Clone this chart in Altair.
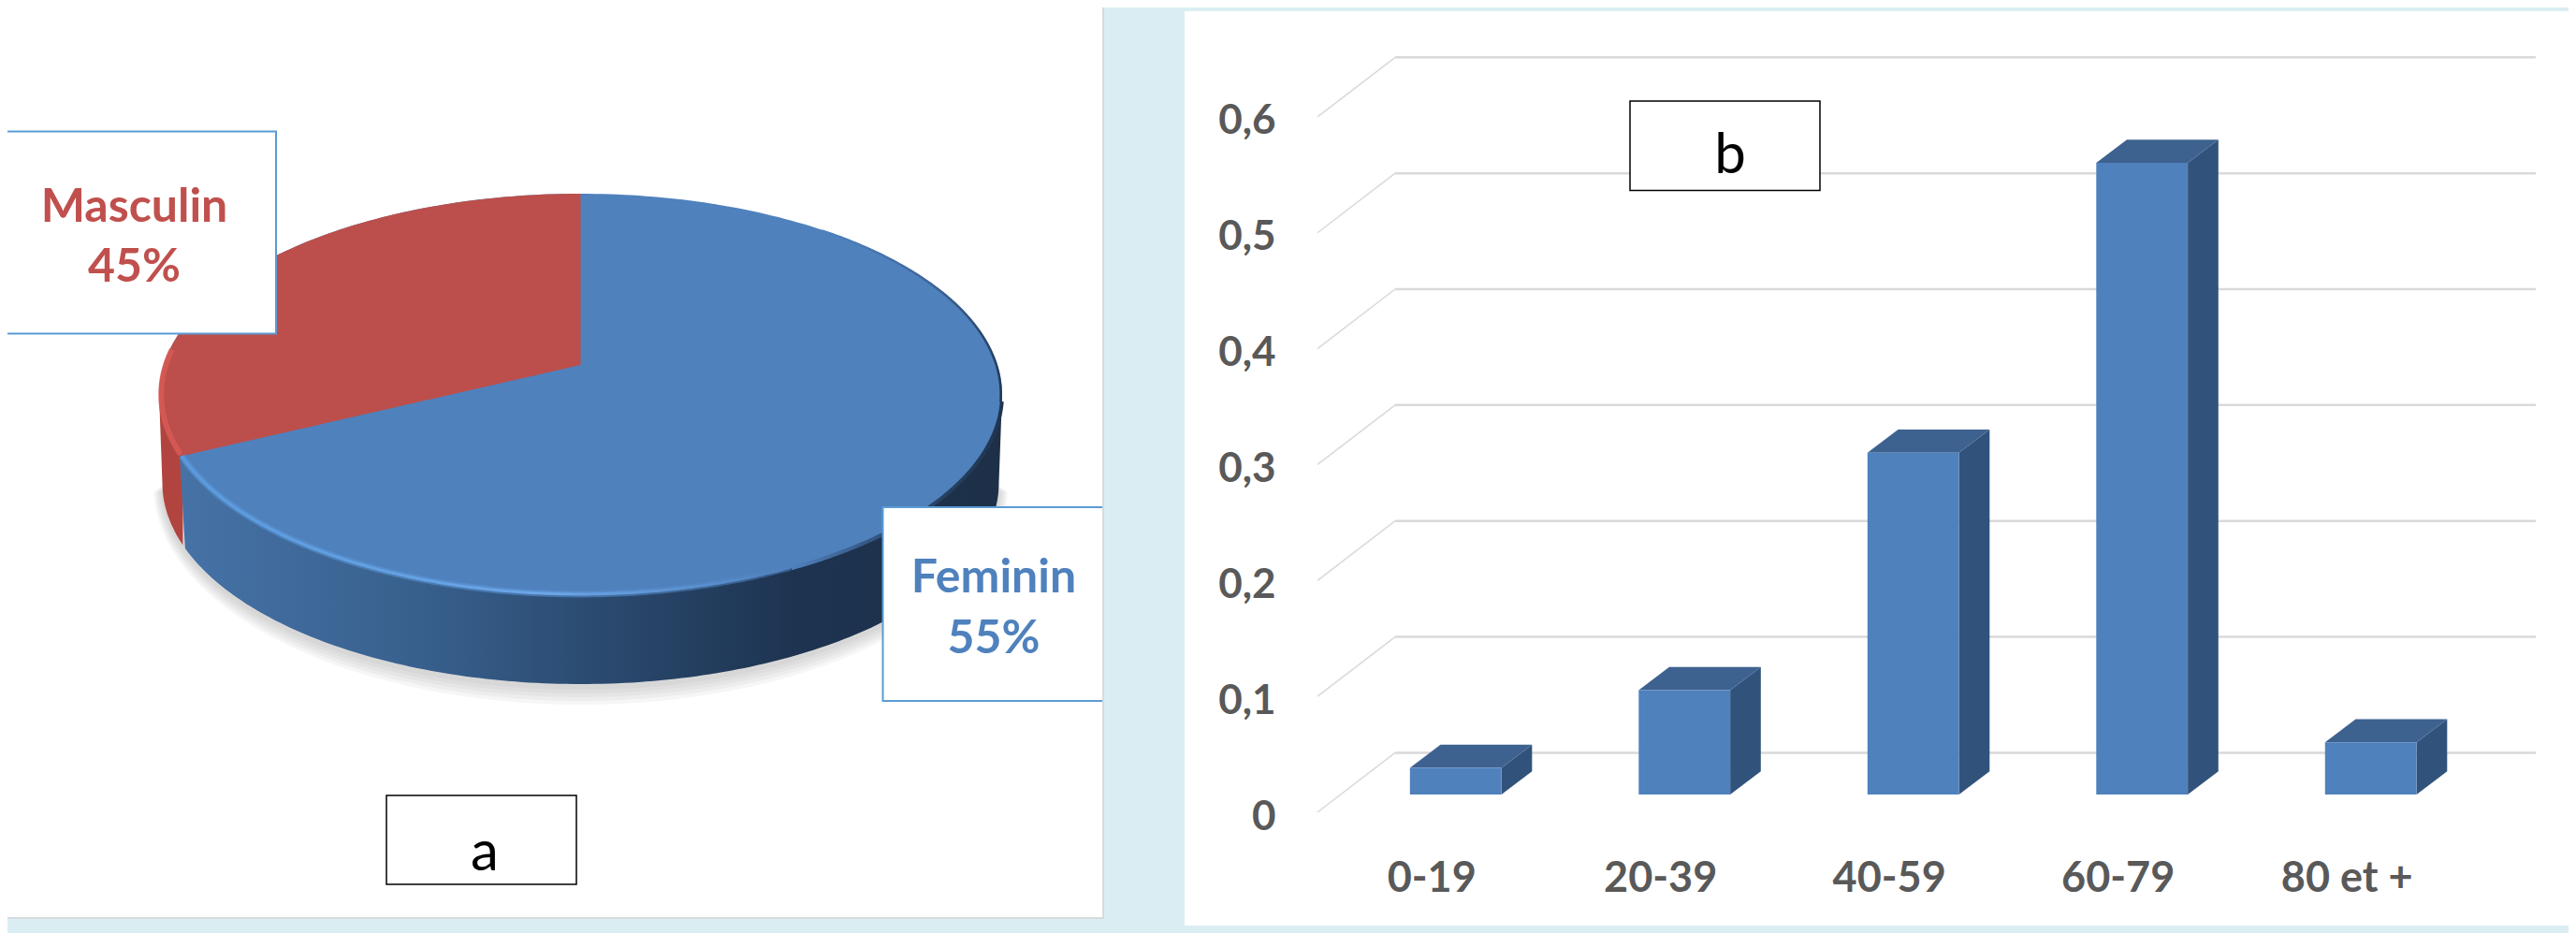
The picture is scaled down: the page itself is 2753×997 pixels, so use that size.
import numpy as np
import pandas as pd
import altair as alt

# ---- data ----
sexes = ["Masculin", "Feminin"]
shares = ["45%", "55%"]
sex_colors = ["#C0504D", "#4F81BD"]
ages = ["0-19", "20-39", "40-59", "60-79", "80 et +"]
age_values = [0.023, 0.09, 0.295, 0.545, 0.045]
y_ticks = [0, 0.1, 0.2, 0.3, 0.4, 0.5, 0.6]

FONT = "Lato"
BG = "#DAEDF3"
EDGE = "#5B9BD5"
W1, H1 = 1172, 974
W2, H2 = 1479, 989

# ---- pie panel: unit-circle geometry seen through two linear scales ----
CX, CY, RX, RY = 620.5, 421.5, 450.5, 214.5
RED_EDGE = 252.0      # angle clockwise from 12 o'clock where the red sector ends
APEX = (CY - 390) / RY
DROP = (516 - CY) / RY   # thickness of the disc
RX_B, RY_B = 447 / RX, 215 / RY

px = alt.Scale(domain=[(8 - CX) / RX, (1180 - CX) / RX], nice=False, zero=False)
py = alt.Scale(domain=[(CY - 982) / RY, (CY - 8) / RY], nice=False, zero=False)


def pie_x(f="x"):
    return alt.X(f"{f}:Q", scale=px, axis=None)


def pie_y(f="y"):
    return alt.Y(f"{f}:Q", scale=py, axis=None)


def arc(t0, t1, n=120):
    t = np.radians(np.linspace(t0, t1, n))
    return pd.DataFrame({"x": np.sin(t), "y": np.cos(t)})


def area(df, **mark):
    return alt.Chart(df).mark_area(**mark).encode(x=pie_x(), y=pie_y("y1"), y2=alt.Y2("y2:Q"))


def line(df, **mark):
    return alt.Chart(df).mark_line(**mark).encode(x=pie_x(), y=pie_y(), order="o:Q")


def grad(stops, vertical=False):
    return alt.LinearGradient(
        gradient="linear", x1=0, x2=0 if vertical else 1, y1=0, y2=1 if vertical else 0,
        stops=[alt.GradientStop(color=c, offset=o) for o, c in stops],
    )


t = np.radians(np.linspace(-90, 90, 181))
ux = np.sin(t)
uy = np.cos(t)
face = pd.DataFrame({"x": ux, "y1": uy, "y2": -uy})

shadows = [
    area(pd.DataFrame({"x": ux * (RX_B + 0.5 * k / RX),
                       "y1": -0.5 + uy * 0.2,
                       "y2": DROP * -1 - uy * (RY_B + k / RY) - 3 / RY}),
         color="#8A8A8A", opacity=0.08, strokeOpacity=0)
    for k in (3, 7, 11, 15, 19)
]

# side wall of the disc
edge_x = np.sin(np.radians(RED_EDGE))
edge_y = np.cos(np.radians(RED_EDGE))
wall_y = lambda x: -DROP - RY_B * np.sqrt(np.clip(1 - (x / RX_B) ** 2, 0, 1))
red_wall = pd.DataFrame({"x": np.r_[-1.0, (ux * RX_B)[(ux * RX_B) < -0.94]]})
red_wall["y1"] = 0.0
red_wall["y2"] = [0.0 if i == 0 else wall_y(v) for i, v in enumerate(red_wall.x)]
bx = (ux * RX_B)[(ux * RX_B) > -0.94]
blue_wall = pd.DataFrame({"x": np.r_[edge_x, bx, 1.0]})
blue_wall["y1"] = 0.0
blue_wall["y2"] = np.r_[edge_y, wall_y(bx), 0.0]

wall_red = area(red_wall, color="#B2443F")
wall_blue = area(blue_wall, color=grad([(0, "#4672A6"), (0.29, "#38608D"), (0.49, "#2C4C72"),
                                        (0.75, "#1D3350"), (1, "#1D3048")]))

face_blue = area(face, color="#4F81BD")
rx_red = np.sin(np.radians(np.linspace(RED_EDGE, 360, 150)))
red_top = pd.DataFrame({"x": np.r_[-1.0, rx_red[np.argmin(rx_red):]]})
red_top = red_top.sort_values("x").drop_duplicates("x")
red_top["y1"] = np.sqrt(np.clip(1 - red_top.x ** 2, 0, 1))
red_top["y2"] = np.where(
    red_top.x < edge_x,
    -np.sqrt(np.clip(1 - red_top.x ** 2, 0, 1)),
    APEX + (edge_y - APEX) * (red_top.x / edge_x),
)
red_top = pd.concat([pd.DataFrame({"x": [edge_x], "y1": [-edge_y],
                                   "y2": [edge_y]}), red_top]).sort_values("x")
face_red = area(red_top, color="#BC4F4B")


# bevel highlights around the rim
def rim(t0, t1, inset):
    df = arc(t0, t1)
    df["x"] *= inset
    df["y"] *= inset
    df["o"] = range(len(df))
    return df


rims = [
    line(rim(RED_EDGE, 150, 0.995), strokeWidth=7, opacity=0.5,
         color=grad([(0, "#5B9BDD"), (0.65, "#5E97D8"), (1, "#4F81BD")])),
    line(rim(RED_EDGE, 150, 0.995), strokeWidth=3,
         color=grad([(0, "#5B9BDD"), (0.6, "#6BA6E8"), (1, "#4F81BD")])),
    line(rim(RED_EDGE + 0.5, 283, 0.995), strokeWidth=6, color="#D85A55", opacity=0.8),
    line(rim(150, 92, 1.0), strokeWidth=4,
         color=grad([(0, "#4F81BD"), (0.5, "#2C4A70"), (1, "#1F3550")])),
    line(rim(92, 35, 0.997), strokeWidth=2.5,
         color=grad([(0, "#4F81BD"), (0.6, "#2C4A70"), (1, "#1F3550")], vertical=True)),
]


def box(x0, x1, y0, y1, stroke, width):
    return alt.Chart(pd.DataFrame({"k": [0]})).mark_rect(
        fill="white", stroke=stroke, strokeWidth=width, clip=True
    ).encode(x=alt.value(x0), x2=alt.value(x1), y=alt.value(y0), y2=alt.value(y1))


def label(txt, x, y, size, color, weight="bold"):
    return alt.Chart(pd.DataFrame({"t": [txt]})).mark_text(
        font=FONT, fontSize=size, fontWeight=weight, color=color, align="center", baseline="middle"
    ).encode(text="t:N", x=alt.value(x), y=alt.value(y))


def border(x0, x1, y0, y1):
    return alt.Chart(pd.DataFrame({"k": [0]})).mark_rect(color="#D5DBDD").encode(
        x=alt.value(x0), x2=alt.value(x1), y=alt.value(y0), y2=alt.value(y1))


left = alt.layer(
    *shadows, wall_red, wall_blue, face_blue, face_red, *rims,
    box(-10, 287, 132.5, 348.5, EDGE, 2),
    label(sexes[0], 135.5, 214, 50, sex_colors[0]),
    label(shares[0], 135.5, 278, 50, sex_colors[0]),
    box(935.5, W1 + 10, 534, 741, EDGE, 2),
    label(sexes[1], 1054, 610, 50, sex_colors[1]),
    label(shares[1], 1054, 675, 50, sex_colors[1]),
    box(405, 608, 842, 937, "black", 1.5),
    label("a", 510, 904, 60, "black", "normal"),
    border(W1 - 2, W1, 0, H1),
    border(0, W1, H1 - 2, H1),
).properties(width=W1, height=H1, view=alt.ViewConfig(fill="white", stroke=None))

# ---- bar panel ----
X0, STEP = 1555.7, 244.5
Y0, UNIT = 868.0, 1238.5
bx_scale = alt.Scale(domain=[(1266 - X0) / STEP, (1266 + W2 - X0) / STEP], nice=False, zero=False)
by_scale = alt.Scale(domain=[(Y0 - 997) / UNIT, (Y0 - 8) / UNIT], nice=False, zero=False)
WALL_DX, WALL_DY = 83 / STEP, 63.6 / UNIT
BAR_DX, BAR_DY = 32.7 / STEP, 24.7 / UNIT
BASE = (Y0 - 849) / UNIT
HALF = 0.2

age_js = "[" + ",".join(f"'{a}'" for a in ages) + "]"
AXIS_X = alt.Axis(values=list(range(len(ages))), labelExpr=f"{age_js}[datum.value]",
                  orient="bottom", offset=-59, domain=False, ticks=False, grid=False,
                  labelPadding=0, labelBaseline="middle", labelOffset=-26,
                  labelFont=FONT, labelFontSize=45, labelFontWeight="bold",
                  labelColor="#595959", labelOverlap=False, labelFlush=False,
                  labelBound=False, labelAngle=0, zindex=1)
AXIS_Y = alt.Axis(values=y_ticks, format=".1~f",
                  labelExpr="replace(datum.label, '.', ',')",
                  orient="left", offset=-97, domain=False, ticks=False, grid=False,
                  labelPadding=0, labelOffset=5, labelFont=FONT, labelFontSize=44,
                  labelFontWeight="bold",
                  labelColor="#595959", labelOverlap=False, labelFlush=False,
                  labelBound=False, zindex=1)


def bar_x(f="x"):
    return alt.X(f"{f}:Q", scale=bx_scale, axis=AXIS_X, title=None)


def bar_y(f="y"):
    return alt.Y(f"{f}:Q", scale=by_scale, axis=AXIS_Y, title=None)


gx0 = (1408 - X0) / STEP
gx1 = (1491 - X0) / STEP
gx2 = (2710 - X0) / STEP
grid = pd.DataFrame({"v": y_ticks})
grid["x0"] = gx0
grid["x1"] = gx1
grid["x2"] = gx2
grid["back"] = grid.v + WALL_DY

panel = alt.Chart(pd.DataFrame({"k": [0]})).mark_rect(color="white").encode(
    x=alt.value(0), x2=alt.value(W2), y=alt.value(4), y2=alt.value(981)
)
diag = alt.Chart(grid).mark_rule(color="#D9D9D9", strokeWidth=1.5).encode(
    x=bar_x("x0"), x2="x1:Q", y=bar_y("v"), y2="back:Q")
back = alt.Chart(grid).mark_rule(color="#D9D9D9", strokeWidth=2.5).encode(
    x=bar_x("x1"), x2="x2:Q", y=bar_y("back"))

rows_top, rows_side = [], []
for i, v in enumerate(age_values):
    l, r, b, tp = i - HALF, i + HALF, BASE, BASE + v
    rows_top += [
        dict(c=ages[i], x=l, y1=tp, y2=tp),
        dict(c=ages[i], x=l + BAR_DX, y1=tp + BAR_DY, y2=tp),
        dict(c=ages[i], x=r, y1=tp + BAR_DY, y2=tp),
        dict(c=ages[i], x=r + BAR_DX, y1=tp + BAR_DY, y2=tp + BAR_DY),
    ]
    rows_side += [
        dict(c=ages[i], x=r, y1=tp, y2=b),
        dict(c=ages[i], x=r + BAR_DX, y1=tp + BAR_DY, y2=b + BAR_DY),
    ]
tops = alt.Chart(pd.DataFrame(rows_top)).mark_area(color="#3E6290").encode(
    x=bar_x(), y=bar_y("y1"), y2="y2:Q", detail="c:N")
sides = alt.Chart(pd.DataFrame(rows_side)).mark_area(color="#31537B").encode(
    x=bar_x(), y=bar_y("y1"), y2="y2:Q", detail="c:N")
fronts_df = pd.DataFrame({"c": ages, "v": age_values})
fronts_df["l"] = fronts_df.index - HALF
fronts_df["r"] = fronts_df.index + HALF
fronts_df["b"] = BASE
fronts_df["t"] = BASE + fronts_df.v
fronts = alt.Chart(fronts_df).mark_rect(color="#4F81BD").encode(
    x=bar_x("l"), x2="r:Q", y=bar_y("b"), y2="t:Q")

right = alt.layer(
    panel, diag, back, sides, tops, fronts,
    box(476, 679, 100, 195.5, "black", 1.5),
    label("b", 583, 159, 60, "black", "normal"),
).properties(width=W2, height=H2, view=alt.ViewConfig(fill=BG, stroke=None))

chart = alt.hconcat(left, right, spacing=86).properties(
    background=BG, padding=0, bounds="flush"
).configure_concat(spacing=86)

chart.save("out.html", embed_options={"renderer": "svg", "actions": False})
